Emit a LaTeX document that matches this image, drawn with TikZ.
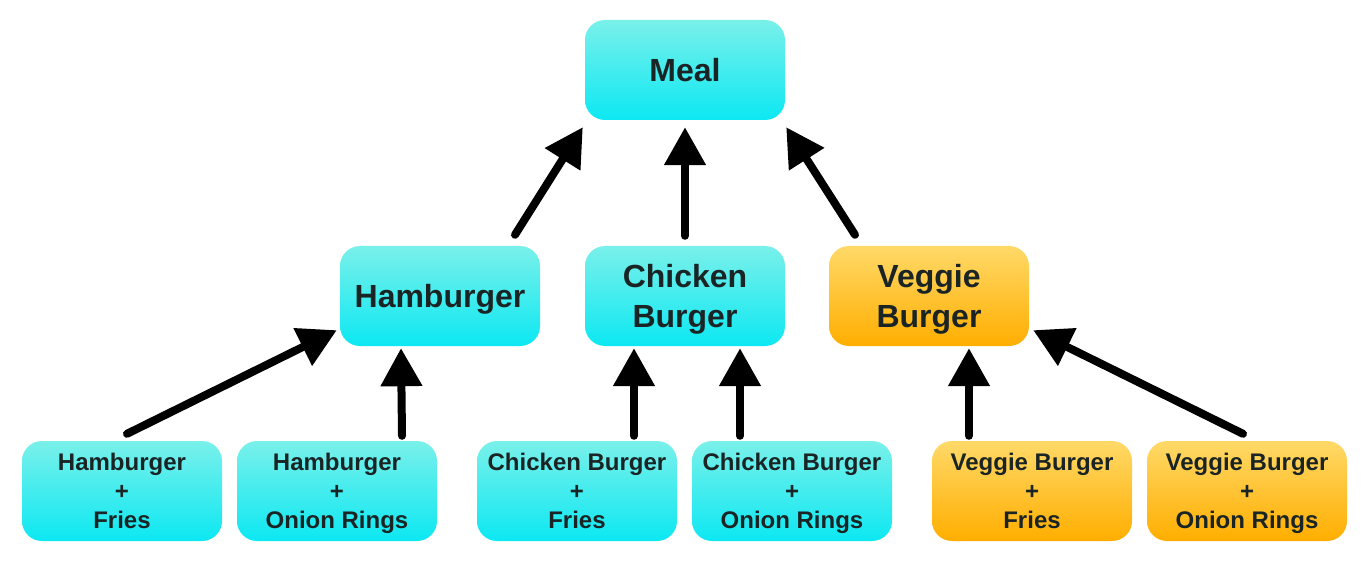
\documentclass[tikz,border=0pt]{standalone}
\usepackage{fontspec}
\setmainfont{Liberation Sans}
\usetikzlibrary{arrows.meta}
\definecolor{cyantop}{RGB}{122,240,234}
\definecolor{cyanbot}{RGB}{12,232,242}
\definecolor{orangetop}{RGB}{255,217,104}
\definecolor{orangebot}{RGB}{255,174,0}
\definecolor{txt}{RGB}{26,36,36}
\newcommand{\nodp}[1]{\raisebox{0pt}[\height][0pt]{#1}}
\tikzset{
  box/.style={rectangle, rounded corners=20pt, minimum width=200pt, minimum height=100pt,
    inner sep=0pt, align=center, text=txt, font=\bfseries},
  cyanbox/.style={box, top color=cyantop, bottom color=cyanbot},
  orangebox/.style={box, top color=orangetop, bottom color=orangebot},
  big/.style={font=\fontsize{32}{40}\selectfont\bfseries},
  small/.style={font=\fontsize{24}{29}\selectfont\bfseries},
  arr/.style={line width=8pt, line cap=round, -{Triangle[length=38pt,width=40pt]}}
}
\begin{document}
\begin{tikzpicture}[x=1pt,y=-1pt]
\useasboundingbox (0,0) rectangle (1370,561);
\node[cyanbox,big] (meal) at (685,70) {\nodp{Meal}};
\node[cyanbox,big] (ham) at (440,296) {\nodp{Hamburger}};
\node[cyanbox,big] (chk) at (685,296) {Chicken\\\nodp{Burger}};
\node[orangebox,big] (veg) at (929,296) {Veggie\\\nodp{Burger}};
\node[cyanbox,small] (hf) at (122,491) {Hamburger\\+\\\nodp{Fries}};
\node[cyanbox,small] (ho) at (337,491) {Hamburger\\+\\\nodp{Onion Rings}};
\node[cyanbox,small] (cf) at (577,491) {Chicken Burger\\+\\\nodp{Fries}};
\node[cyanbox,small] (co) at (792,491) {Chicken Burger\\+\\\nodp{Onion Rings}};
\node[orangebox,small] (vf) at (1032,491) {Veggie Burger\\+\\\nodp{Fries}};
\node[orangebox,small] (vo) at (1247,491) {Veggie Burger\\+\\\nodp{Onion Rings}};
% level 2 -> meal
\draw[arr] ([shift={(75,-11)}]ham.north) -- ([shift={(-2,7)}]meal.south west);
\draw[arr] ([shift={(0,-10)}]chk.north) -- ([shift={(0,7)}]meal.south);
\draw[arr] ([shift={(-74,-11)}]veg.north) -- ([shift={(1,7)}]meal.south east);
% level 3 -> level 2
\draw[arr] ([shift={(5,-7)}]hf.north) -- ([shift={(-3,-16)}]ham.south west);
\draw[arr] ([shift={(65,-5)}]ho.north) -- ([shift={(-39,2)}]ham.south);
\draw[arr] ([shift={(57,-5)}]cf.north) -- ([shift={(-51,2)}]chk.south);
\draw[arr] ([shift={(-52,-5)}]co.north) -- ([shift={(55,2)}]chk.south);
\draw[arr] ([shift={(-63,-5)}]vf.north) -- ([shift={(40,2)}]veg.south);
\draw[arr] ([shift={(-4,-7)}]vo.north) -- ([shift={(4,-16)}]veg.south east);
\end{tikzpicture}
\end{document}
